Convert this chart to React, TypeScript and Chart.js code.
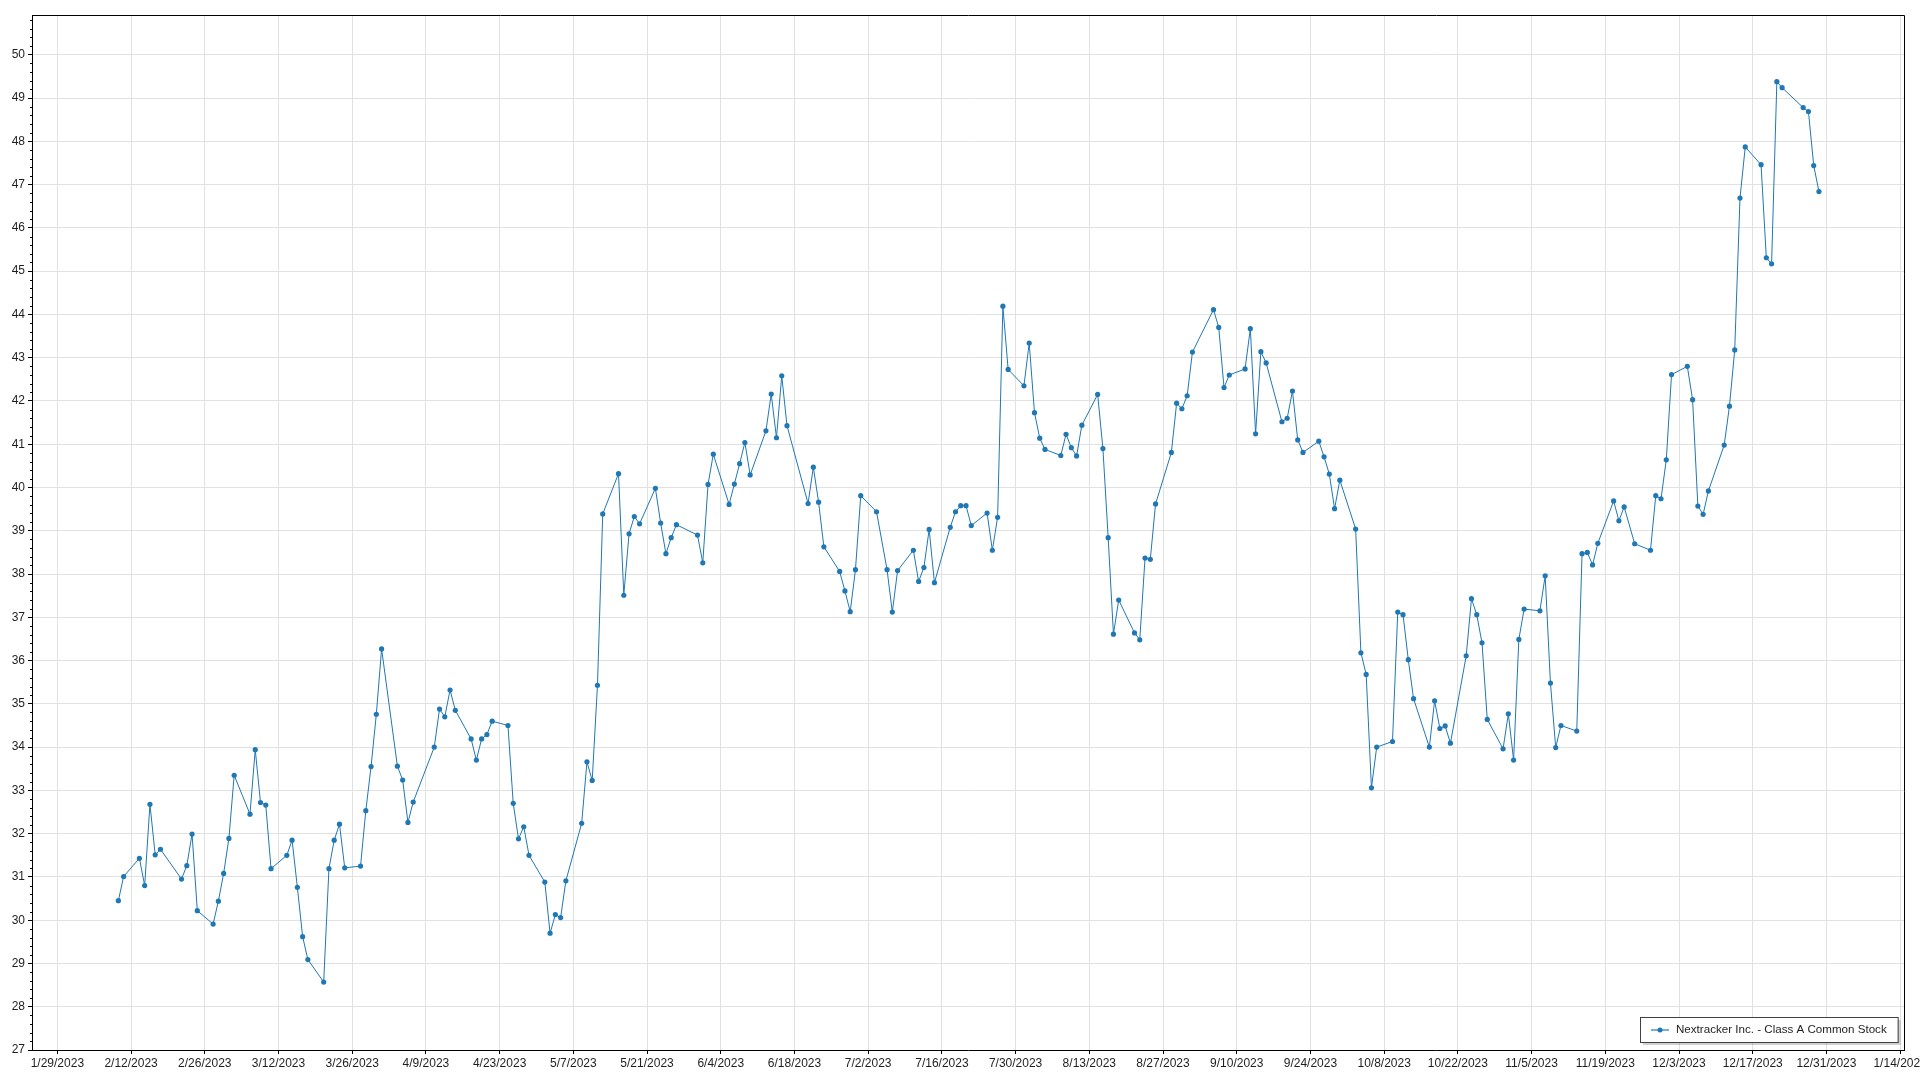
import React, { useEffect, useRef } from 'react';
import { Chart, registerables } from 'chart.js';

Chart.register(...registerables);

const SERIES_LABEL = 'Nextracker Inc. - Class A Common Stock';

const dates: string[] = [
  '2023-02-09', '2023-02-10', '2023-02-13', '2023-02-14', '2023-02-15', '2023-02-16', '2023-02-17',
  '2023-02-21', '2023-02-22', '2023-02-23', '2023-02-24', '2023-02-27', '2023-02-28',
  '2023-03-01', '2023-03-02', '2023-03-03', '2023-03-06', '2023-03-07', '2023-03-08', '2023-03-09', '2023-03-10',
  '2023-03-13', '2023-03-14', '2023-03-15', '2023-03-16', '2023-03-17', '2023-03-20', '2023-03-21', '2023-03-22',
  '2023-03-23', '2023-03-24', '2023-03-27', '2023-03-28', '2023-03-29', '2023-03-30', '2023-03-31',
  '2023-04-03', '2023-04-04', '2023-04-05', '2023-04-06', '2023-04-10', '2023-04-11', '2023-04-12', '2023-04-13',
  '2023-04-14', '2023-04-17', '2023-04-18', '2023-04-19', '2023-04-20', '2023-04-21', '2023-04-24', '2023-04-25',
  '2023-04-26', '2023-04-27', '2023-04-28',
  '2023-05-01', '2023-05-02', '2023-05-03', '2023-05-04', '2023-05-05', '2023-05-08', '2023-05-09', '2023-05-10',
  '2023-05-11', '2023-05-12', '2023-05-15', '2023-05-16', '2023-05-17', '2023-05-18', '2023-05-19', '2023-05-22',
  '2023-05-23', '2023-05-24', '2023-05-25', '2023-05-26', '2023-05-30', '2023-05-31',
  '2023-06-01', '2023-06-02', '2023-06-05', '2023-06-06', '2023-06-07', '2023-06-08', '2023-06-09', '2023-06-12',
  '2023-06-13', '2023-06-14', '2023-06-15', '2023-06-16', '2023-06-20', '2023-06-21', '2023-06-22', '2023-06-23',
  '2023-06-26', '2023-06-27', '2023-06-28', '2023-06-29', '2023-06-30',
  '2023-07-03', '2023-07-05', '2023-07-06', '2023-07-07', '2023-07-10', '2023-07-11', '2023-07-12', '2023-07-13',
  '2023-07-14', '2023-07-17', '2023-07-18', '2023-07-19', '2023-07-20', '2023-07-21', '2023-07-24', '2023-07-25',
  '2023-07-26', '2023-07-27', '2023-07-28', '2023-07-31',
  '2023-08-01', '2023-08-02', '2023-08-03', '2023-08-04', '2023-08-07', '2023-08-08', '2023-08-09', '2023-08-10',
  '2023-08-11', '2023-08-14', '2023-08-15', '2023-08-16', '2023-08-17', '2023-08-18', '2023-08-21', '2023-08-22',
  '2023-08-23', '2023-08-24', '2023-08-25', '2023-08-28', '2023-08-29', '2023-08-30', '2023-08-31',
  '2023-09-01', '2023-09-05', '2023-09-06', '2023-09-07', '2023-09-08', '2023-09-11', '2023-09-12', '2023-09-13',
  '2023-09-14', '2023-09-15', '2023-09-18', '2023-09-19', '2023-09-20', '2023-09-21', '2023-09-22', '2023-09-25',
  '2023-09-26', '2023-09-27', '2023-09-28', '2023-09-29',
  '2023-10-02', '2023-10-03', '2023-10-04', '2023-10-05', '2023-10-06', '2023-10-09', '2023-10-10', '2023-10-11',
  '2023-10-12', '2023-10-13', '2023-10-16', '2023-10-17', '2023-10-18', '2023-10-19', '2023-10-20', '2023-10-23',
  '2023-10-24', '2023-10-25', '2023-10-26', '2023-10-27', '2023-10-30', '2023-10-31',
  '2023-11-01', '2023-11-02', '2023-11-03', '2023-11-06', '2023-11-07', '2023-11-08', '2023-11-09', '2023-11-10',
  '2023-11-13', '2023-11-14', '2023-11-15', '2023-11-16', '2023-11-17', '2023-11-20', '2023-11-21', '2023-11-22',
  '2023-11-24', '2023-11-27', '2023-11-28', '2023-11-29', '2023-11-30',
  '2023-12-01', '2023-12-04', '2023-12-05', '2023-12-06', '2023-12-07', '2023-12-08', '2023-12-11', '2023-12-12',
  '2023-12-13', '2023-12-14', '2023-12-15', '2023-12-18', '2023-12-19', '2023-12-20', '2023-12-21', '2023-12-22',
  '2023-12-26', '2023-12-27', '2023-12-28', '2023-12-29',
];

const closes: number[] = [
  30.45, 31.01, 31.43, 30.80, 32.68, 31.51, 31.64,
  30.95, 31.26, 31.99, 30.22, 29.91, 30.44,
  31.08, 31.89, 33.35, 32.45, 33.94, 32.72, 32.66, 31.19,
  31.50, 31.85, 30.76, 29.62, 29.09, 28.57, 31.19, 31.85,
  32.22, 31.21, 31.25, 32.53, 33.55, 34.76, 36.27,
  33.56, 33.24, 32.26, 32.73, 34.00, 34.88, 34.70, 35.32,
  34.85, 34.19, 33.70, 34.19, 34.29, 34.60, 34.50, 32.70,
  31.88, 32.16, 31.50,
  30.88, 29.70, 30.13, 30.06, 30.91, 32.24, 33.66, 33.23,
  35.43, 39.39, 40.32, 37.51, 38.93, 39.33, 39.16, 39.98,
  39.18, 38.47, 38.84, 39.14, 38.90, 38.26,
  40.07, 40.77, 39.61, 40.08, 40.55, 41.04, 40.29, 41.31,
  42.16, 41.15, 42.58, 41.43, 39.63, 40.47, 39.66, 38.63,
  38.06, 37.61, 37.13, 38.10, 39.81,
  39.44, 38.10, 37.12, 38.08, 38.55, 37.83, 38.15, 39.03,
  37.80, 39.08, 39.44, 39.58, 39.58, 39.12, 39.41, 38.55,
  39.31, 44.19, 42.73, 42.35,
  43.34, 41.73, 41.14, 40.88, 40.74, 41.23, 40.92, 40.73,
  41.44, 42.15, 40.90, 38.84, 36.61, 37.40, 36.64, 36.48,
  38.37, 38.34, 39.62, 40.81, 41.95, 41.82, 42.12,
  43.13, 44.11, 43.70, 42.31, 42.60, 42.74, 43.67, 41.24,
  43.14, 42.88, 41.52, 41.60, 42.23, 41.10, 40.81, 41.07,
  40.71, 40.31, 39.51, 40.17,
  39.04, 36.18, 35.68, 33.06, 34.00, 34.13, 37.12, 37.06,
  36.02, 35.12, 34.00, 35.07, 34.43, 34.49, 34.09, 36.11,
  37.43, 37.06, 36.41, 34.64, 33.96, 34.77,
  33.70, 36.49, 37.19, 37.15, 37.96, 35.48, 33.99, 34.50,
  34.37, 38.47, 38.50, 38.21, 38.71, 39.69, 39.23, 39.55,
  38.70, 38.55, 39.81, 39.74, 40.64,
  42.61, 42.80, 42.03, 39.57, 39.38, 39.92, 40.98, 41.88,
  43.18, 46.69, 47.87, 47.46, 45.31, 45.17, 49.38, 49.24,
  48.78, 48.69, 47.44, 46.84,
];

const Y_MIN = 27;
const Y_MAX = 50.92;
const Y_STEP = 1;
const Y_MINOR_PER_MAJOR = 5;
const X_TICK_START = '2023-01-29';
const X_TICK_STEP_DAYS = 14;
const X_PAD_FRACTION = 0.05;

const DAY_MS = 86400000;
const toMs = (s: string) => Date.parse(s + 'T14:00:00Z');
const fmtDate = (ms: number) => {
  const d = new Date(ms);
  return `${d.getUTCMonth() + 1}/${d.getUTCDate()}/${d.getUTCFullYear()}`;
};

const LINE_COLOR = '#1f77b4';
const TEXT_COLOR = '#1e1e1e';
const GRID_COLOR = '#e1e1e1';
const FONT_FAMILY = "'Liberation Sans', Arial, sans-serif";

export default function App() {
  const canvasRef = useRef<HTMLCanvasElement | null>(null);

  useEffect(() => {
    const canvas = canvasRef.current;
    if (!canvas) return;

    const points = dates.map((d, i) => ({ x: toMs(d), y: closes[i] }));
    const xs = points.map((p) => p.x);
    const dataMin = Math.min(...xs);
    const dataMax = Math.max(...xs);
    const pad = (dataMax - dataMin) * X_PAD_FRACTION;
    const xMin = dataMin - pad - 0.25 * DAY_MS;
    const xMax = dataMax + pad;

    const tickStart = Date.parse(X_TICK_START + 'T00:00:00Z');
    const xTicks: number[] = [];
    for (let t = tickStart; t <= xMax; t += X_TICK_STEP_DAYS * DAY_MS) xTicks.push(t);

    const framePlugin = {
      id: 'frameAndMinor',
      afterDraw(chart: any) {
        const { ctx, chartArea } = chart;
        const y = chart.scales.y;
        ctx.save();
        ctx.strokeStyle = '#000';
        ctx.lineWidth = 1;
        ctx.beginPath();
        ctx.moveTo(Math.round(chartArea.left) + 0.5, Math.round(chartArea.top) + 0.5);
        ctx.lineTo(Math.round(chartArea.right) + 0.5, Math.round(chartArea.top) + 0.5);
        ctx.lineTo(Math.round(chartArea.right) + 0.5, Math.round(chartArea.bottom) + 0.5);
        ctx.stroke();
        const minorStep = Y_STEP / Y_MINOR_PER_MAJOR;
        const start = Math.ceil(Y_MIN / minorStep);
        const end = Math.floor(Y_MAX / minorStep);
        ctx.beginPath();
        for (let i = start; i <= end; i++) {
          if (i % Y_MINOR_PER_MAJOR === 0) continue;
          const py = Math.round(y.getPixelForValue(i * minorStep)) + 0.5;
          ctx.moveTo(chartArea.left - 2, py);
          ctx.lineTo(chartArea.left, py);
        }
        ctx.stroke();
        ctx.restore();
      },
    };

    const legendPlugin = {
      id: 'boxLegend',
      afterDraw(chart: any) {
        const { ctx, chartArea } = chart;
        ctx.save();
        ctx.font = `11.6px ${FONT_FAMILY}`;
        const tw = ctx.measureText(SERIES_LABEL).width;
        const right = chartArea.right - 6;
        const bottom = chartArea.bottom - 8;
        const h = 25;
        const w = 36 + tw + 11;
        const left = Math.round(right - w);
        const top = Math.round(bottom - h);
        ctx.fillStyle = 'rgba(0,0,0,0.18)';
        ctx.fillRect(left + 3, top + 3, w, h);
        ctx.fillStyle = '#fff';
        ctx.fillRect(left, top, w, h);
        ctx.strokeStyle = '#404040';
        ctx.lineWidth = 1;
        ctx.strokeRect(left + 0.5, top + 0.5, w, h);
        const cy = top + h / 2 + 0.5;
        ctx.strokeStyle = 'rgba(31,119,180,0.6)';
        ctx.lineWidth = 2;
        ctx.beginPath();
        ctx.moveTo(left + 11, cy);
        ctx.lineTo(left + 29, cy);
        ctx.stroke();
        ctx.fillStyle = LINE_COLOR;
        ctx.beginPath();
        ctx.arc(left + 20, cy, 2.5, 0, Math.PI * 2);
        ctx.fill();
        ctx.fillStyle = TEXT_COLOR;
        ctx.textBaseline = 'middle';
        ctx.textAlign = 'left';
        ctx.fillText(SERIES_LABEL, left + 36, cy);
        ctx.restore();
      },
    };

    const chart = new Chart(canvas, {
      type: 'line',
      data: {
        datasets: [
          {
            label: SERIES_LABEL,
            data: points,
            borderColor: LINE_COLOR,
            backgroundColor: LINE_COLOR,
            borderWidth: 1,
            pointRadius: 2.6,
            pointBorderWidth: 0,
            pointBackgroundColor: LINE_COLOR,
            tension: 0,
            fill: false,
          },
        ],
      },
      options: {
        animation: false,
        responsive: false,
        maintainAspectRatio: false,
        events: [],
        layout: { padding: { left: 0, top: 15, right: 16, bottom: 0 } },
        plugins: {
          legend: { display: false },
          tooltip: { enabled: false },
        },
        scales: {
          x: {
            type: 'linear',
            min: xMin,
            max: xMax,
            afterBuildTicks: (scale: any) => {
              scale.ticks = xTicks.map((v) => ({ value: v }));
            },
            afterFit: (scale: any) => {
              scale.height = 30;
              scale.paddingLeft = 0;
              scale.paddingRight = 0;
            },
            ticks: {
              autoSkip: false,
              maxRotation: 0,
              minRotation: 0,
              padding: 2,
              color: TEXT_COLOR,
              font: { family: FONT_FAMILY, size: 12 },
              callback: (v: any) => fmtDate(Number(v)),
            },
            grid: {
              color: GRID_COLOR,
              lineWidth: 1,
              drawTicks: true,
              tickLength: 4,
              tickColor: '#000',
            },
            border: { display: true, color: '#000', width: 1 },
          },
          y: {
            type: 'linear',
            min: Y_MIN,
            max: Y_MAX,
            afterFit: (scale: any) => {
              scale.width = 32;
              scale.paddingTop = 0;
              scale.paddingBottom = 0;
            },
            ticks: {
              stepSize: Y_STEP,
              includeBounds: false,
              padding: 3,
              color: TEXT_COLOR,
              font: { family: FONT_FAMILY, size: 12 },
            },
            grid: {
              color: GRID_COLOR,
              lineWidth: 1,
              drawTicks: true,
              tickLength: 4,
              tickColor: '#000',
            },
            border: { display: true, color: '#000', width: 1 },
          },
        },
      },
      plugins: [framePlugin, legendPlugin],
    } as any);

    return () => chart.destroy();
  }, []);

  return (
    <div style={{ position: 'fixed', left: 0, top: 0, width: 1920, height: 1080, background: '#fff' }}>
      <canvas ref={canvasRef} width={1920} height={1080} style={{ display: 'block' }} />
    </div>
  );
}
